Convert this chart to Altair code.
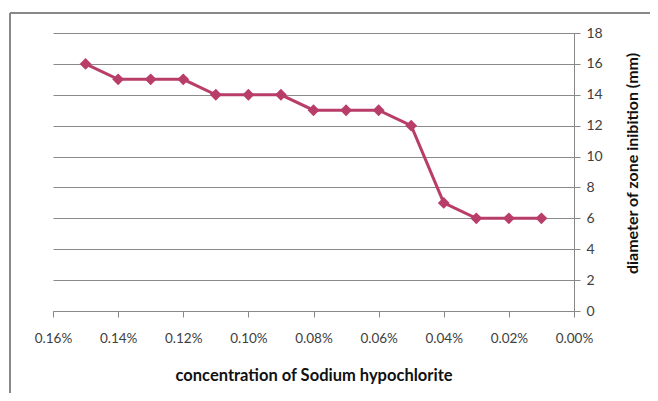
import altair as alt
import pandas as pd

concentration = [0.0015, 0.0014, 0.0013, 0.0012, 0.0011, 0.0010, 0.0009, 0.0008,
                 0.0007, 0.0006, 0.0005, 0.0004, 0.0003, 0.0002, 0.0001]
diameter = [16, 15, 15, 15, 14, 14, 14, 13, 13, 13, 12, 7, 6, 6, 6]
x_ticks = [0.0016, 0.0014, 0.0012, 0.0010, 0.0008, 0.0006, 0.0004, 0.0002, 0.0]
y_ticks = [0, 2, 4, 6, 8, 10, 12, 14, 16, 18]

df = pd.DataFrame({"conc": concentration, "diam": diameter})

color = "#B83D68"
font = "Lato"

x = alt.X("conc:Q",
          scale=alt.Scale(domain=[0.0016, 0.0], nice=False, zero=False),
          axis=alt.Axis(values=x_ticks, format=".2%", grid=False,
                        labelOverlap=False, labelFlush=False,
                        title="concentration of Sodium hypochlorite",
                        domainColor="#888888", tickColor="#888888", tickSize=6,
                        labelFont=font, labelFontSize=13.5, labelColor="#404040",
                        labelPadding=14, titleFont=font, titleFontSize=16.5,
                        titleFontWeight="bold", titleColor="#111111", titlePadding=23))
y = alt.Y("diam:Q",
          scale=alt.Scale(domain=[0, 18], nice=False),
          axis=alt.Axis(orient="right", values=y_ticks, grid=True, gridColor="#8a8a8a",
                        labelOverlap=False, labelFlush=False,
                        domainColor="#888888", tickColor="#888888", tickSize=6,
                        title="diameter of zone inibition (mm)", titleAngle=270,
                        titleY=130,
                        labelFont=font, labelFontSize=14, labelColor="#404040",
                        labelPadding=6, titleFont=font, titleFontSize=16,
                        titleFontWeight="bold", titleColor="#111111", titlePadding=38))

base = alt.Chart(df).encode(x=x, y=y)
line = base.mark_line(color=color, strokeWidth=3)
pts = base.mark_point(shape="diamond", filled=True, color=color, size=140, opacity=1)

# outer frame of the figure (decoration)
frame_top = alt.Chart(df).mark_rule(color="#888888", strokeWidth=2).encode(
    x=alt.value(-43), x2=alt.value(700), y=alt.value(-20))
frame_left = alt.Chart(df).mark_rule(color="#888888", strokeWidth=2).encode(
    x=alt.value(-43), y=alt.value(-20), y2=alt.value(500))

chart = alt.layer(line, pts, frame_top, frame_left).properties(
    width=521, height=278,
    background="white",
    autosize=alt.AutoSizeParams(type="none"),
    padding={"left": 45, "top": 25, "right": 76, "bottom": 82},
).configure_view(stroke=None)

chart.save("out.html", embed_options={"renderer": "svg", "actions": False})
